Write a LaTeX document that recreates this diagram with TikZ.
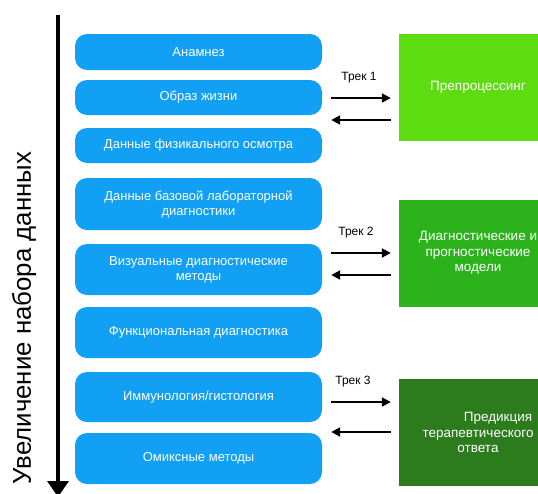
\documentclass[tikz,border=0pt]{standalone}
\usepackage{fontspec}
\setmainfont{Liberation Sans}
\usetikzlibrary{arrows.meta}

\definecolor{srcblue}{HTML}{12A0F5}
\definecolor{trkone}{HTML}{5EDC12}
\definecolor{trktwo}{HTML}{2CB31C}
\definecolor{trkthree}{HTML}{2C7C1E}

\tikzset{
  src/.style={rectangle, rounded corners=12pt, fill=srcblue, text=white,
    minimum width=247pt, align=center, font=\fontsize{13}{15}\selectfont},
  res/.style={rectangle, text=white, minimum width=158pt, minimum height=107pt,
    align=center, font=\fontsize{13.5}{15.5}\selectfont},
  trk/.style={line width=2pt, -{Triangle[width=9pt,length=9pt]}},
}

\begin{document}
\begin{tikzpicture}[x=1pt, y=-1pt]
\clip (0,0) rectangle (538,493);

% data sources
\node[src, minimum height=36pt] (src1) at (198.5,52)    {Анамнез};
\node[src, minimum height=35pt] (src2) at (198.5,97.5)  {Образ жизни};
\node[src, minimum height=35pt] (src3) at (198.5,145.5) {Данные физикального осмотра};
\node[src, minimum height=52pt] (src4) at (198.5,204)   {Данные базовой лабораторной\\диагностики};
\node[src, minimum height=51pt] (src5) at (198.5,269.5) {Визуальные диагностические\\методы};
\node[src, minimum height=51pt] (src6) at (198.5,332.5) {Функциональная диагностика};
\node[src, minimum height=50pt] (src7) at (198.5,397)   {Иммунология/гистология};
\node[src, minimum height=51pt] (src8) at (198.5,458.5) {Омиксные методы};

% tracks
\node[res, fill=trkone]   (pre)  at (478,87.5)  {Препроцессинг};
\node[res, fill=trktwo]   (dia)  at (478,253)   {Диагностические и\\прогностические\\модели};
\node[res, fill=trkthree] (pred) at (478,432.5) {\hspace*{40pt}Предикция\\терапевтического\\ответа};

\foreach \s/\g/\ya/\yb/\n in {src2/pre/98/120/1, src5/dia/253/275/2, src7/pred/402/432/3}{
  \draw[trk] ([xshift=9pt]\s.east |- 0,\ya) -- ([xshift=-8pt]\g.west |- 0,\ya);
  \draw[trk] ([xshift=-8pt]\g.west |- 0,\yb) -- ([xshift=9pt]\s.east |- 0,\yb);
  \node[font=\fontsize{12}{14}\selectfont] (lbl\n) at (359-3*\n+3,\ya-20) {Трек \n};
}

% axis
\coordinate (top) at (58,15);
\coordinate (bot) at (58,497);
\draw[line width=3.5pt, -{Triangle[width=21pt,length=16pt]}] (top) -- (bot);
\node[rotate=90, font=\fontsize{25.8}{28}\selectfont] (axlbl) at (24,318) {Увеличение набора данных};
\end{tikzpicture}
\end{document}
